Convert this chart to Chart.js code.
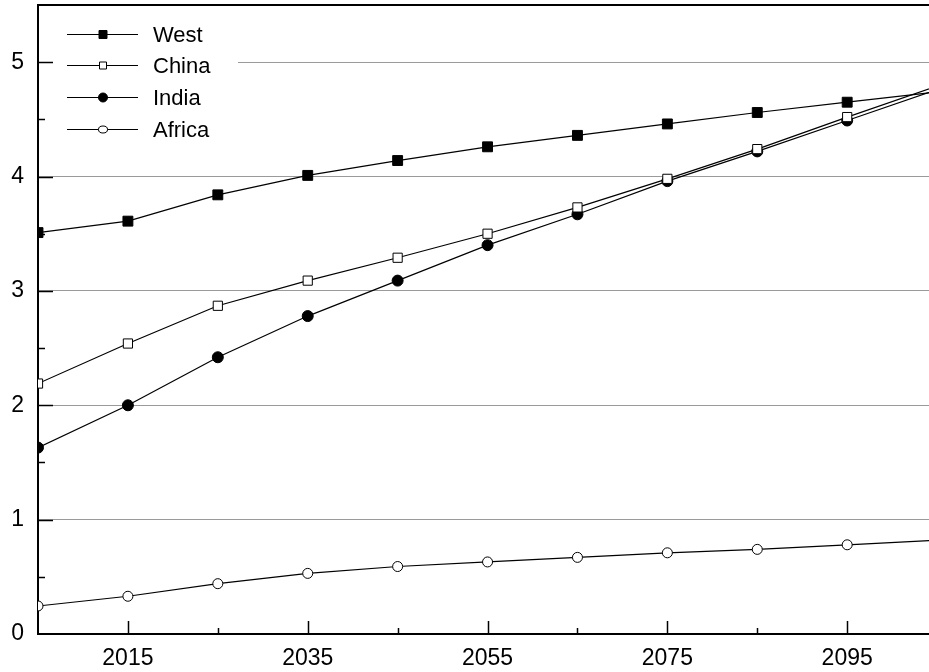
<!DOCTYPE html>
<html>
<head>
<meta charset="utf-8">
<script src="https://cdn.jsdelivr.net/npm/chart.js@4"></script>
<style>
    html, body { margin: 0; padding: 0; background: #fff; }
    #wrap { width: 929px; height: 672px; position: relative; }
</style>
</head>
<body>
<div id="wrap"><canvas id="chart"></canvas></div>
<script>
// Chart data
const years = [2005, 2015, 2025, 2035, 2045, 2055, 2065, 2075, 2085, 2095, 2105];
const west = [3.51, 3.61, 3.84, 4.01, 4.14, 4.26, 4.36, 4.46, 4.56, 4.65, 4.74];
const china = [2.19, 2.54, 2.87, 3.09, 3.29, 3.50, 3.73, 3.98, 4.24, 4.52, 4.79];
const india = [1.63, 2.00, 2.42, 2.78, 3.09, 3.40, 3.67, 3.96, 4.22, 4.49, 4.76];
const africa = [0.245, 0.33, 0.44, 0.53, 0.59, 0.63, 0.67, 0.71, 0.74, 0.78, 0.82];
const seriesNames = ['West', 'China', 'India', 'Africa'];
const xTickLabels = [2015, 2035, 2055, 2075, 2095];
const xMinorTicks = [2025, 2045, 2065, 2085];
const yTickLabels = [0, 1, 2, 3, 4, 5];
const yMinorTicks = [0.5, 1.5, 2.5, 3.5, 4.5];

const FONT = '"Liberation Sans", Arial, sans-serif';
Chart.defaults.font.family = FONT;
Chart.defaults.color = '#000';

// Build points from the arrays
const toPoints = values => years.map((year, i) => ({ x: year, y: values[i] }));

// Dataset styles
const styles = [
    { pointStyle: 'rect', radius: 7, fill: '#000' },
    { pointStyle: 'rect', radius: 6.5, fill: '#fff' },
    { pointStyle: 'circle', radius: 5.5, fill: '#000' },
    { pointStyle: 'circle', radius: 5, fill: '#fff' }
];

const datasets = [west, china, india, africa].map((values, i) => ({
    label: seriesNames[i],
    data: toPoints(values),
    borderColor: '#000',
    borderWidth: 1.2,
    tension: 0,
    pointStyle: styles[i].pointStyle,
    pointRadius: styles[i].radius,
    pointBackgroundColor: styles[i].fill,
    pointBorderColor: '#000',
    pointBorderWidth: 1
}));

// Draw frame ticks, top border and the legend box
const framePlugin = {
    id: 'frame',
    afterDraw(chart) {
        const { ctx, chartArea: a, scales: { x, y } } = chart;
        ctx.save();
        ctx.strokeStyle = '#000';

        // legend background hides the grid line behind it
        ctx.fillStyle = '#fff';
        ctx.fillRect(a.left + 2, a.top + 3, 198, 140);

        // top border
        ctx.lineWidth = 2;
        ctx.beginPath();
        ctx.moveTo(a.left - 1, a.top);
        ctx.lineTo(a.right, a.top);
        ctx.stroke();

        // ticks pointing inward
        ctx.lineWidth = 1.5;
        const vTick = (v, len) => {
            const px = Math.round(x.getPixelForValue(v)) + 0.5;
            ctx.beginPath();
            ctx.moveTo(px, a.bottom);
            ctx.lineTo(px, a.bottom - len);
            ctx.stroke();
        };
        const hTick = (v, len) => {
            const py = Math.round(y.getPixelForValue(v)) + 0.5;
            ctx.beginPath();
            ctx.moveTo(a.left, py);
            ctx.lineTo(a.left + len, py);
            ctx.stroke();
        };
        xTickLabels.forEach(v => vTick(v, 13));
        xMinorTicks.forEach(v => vTick(v, 6));
        yTickLabels.slice(1).forEach(v => hTick(v, 15));
        yMinorTicks.forEach(v => hTick(v, 7));

        // legend rows
        const lineX0 = 67, lineX1 = 138, markX = 103, textX = 153;
        chart.data.datasets.forEach((ds, i) => {
            const rowY = Math.round(33.5 + i * 31.7) + 0.5;
            ctx.strokeStyle = '#000';
            ctx.lineWidth = 1.2;
            ctx.beginPath();
            ctx.moveTo(lineX0, rowY);
            ctx.lineTo(lineX1, rowY);
            ctx.stroke();

            ctx.lineWidth = 1;
            ctx.fillStyle = ds.pointBackgroundColor;
            ctx.beginPath();
            if (ds.pointStyle === 'rect') {
                const s = i === 0 ? 8 : 7;
                ctx.rect(markX - s / 2, rowY - s / 2, s, s);
            } else {
                const ry = i === 2 ? 4.5 : 3.5;
                ctx.ellipse(markX, rowY, 4.5, ry, 0, 0, Math.PI * 2);
            }
            ctx.fill();
            ctx.stroke();

            ctx.fillStyle = '#000';
            ctx.font = '22px ' + FONT;
            ctx.textAlign = 'left';
            ctx.textBaseline = 'middle';
            ctx.fillText(ds.label, textX, rowY + 1);
        });
        ctx.restore();
    }
};

new Chart(document.getElementById('chart'), {
    type: 'line',
    data: { datasets },
    options: {
        responsive: true,
        maintainAspectRatio: false,
        animation: false,
        devicePixelRatio: 1,
        layout: {
            autoPadding: false,
            padding: { top: 5, right: 0, left: 0, bottom: 0 }
        },
        plugins: {
            legend: { display: false },
            tooltip: { enabled: false }
        },
        scales: {
            x: {
                type: 'linear',
                min: 2005,
                max: 2104.1,
                afterBuildTicks: scale => {
                    scale.ticks = xTickLabels.map(v => ({ value: v }));
                },
                afterFit: scale => {
                    scale.height = 38;
                    scale.paddingLeft = 0;
                    scale.paddingRight = 0;
                },
                ticks: {
                    font: { size: 23 },
                    padding: 11,
                    maxRotation: 0,
                    callback: v => String(v)
                },
                grid: { color: 'transparent', drawTicks: false },
                border: { color: '#000', width: 2 }
            },
            y: {
                min: 0,
                max: 5.5,
                afterBuildTicks: scale => {
                    scale.ticks = yTickLabels.map(v => ({ value: v }));
                },
                afterFit: scale => {
                    scale.width = 38;
                    scale.paddingTop = 0;
                    scale.paddingBottom = 0;
                },
                ticks: {
                    font: { size: 23 },
                    padding: 14,
                    callback: v => String(v)
                },
                grid: { color: '#9a9a9a', lineWidth: 1, drawTicks: false },
                border: { color: '#000', width: 2 }
            }
        }
    },
    plugins: [framePlugin]
});
</script>
</body>
</html>
